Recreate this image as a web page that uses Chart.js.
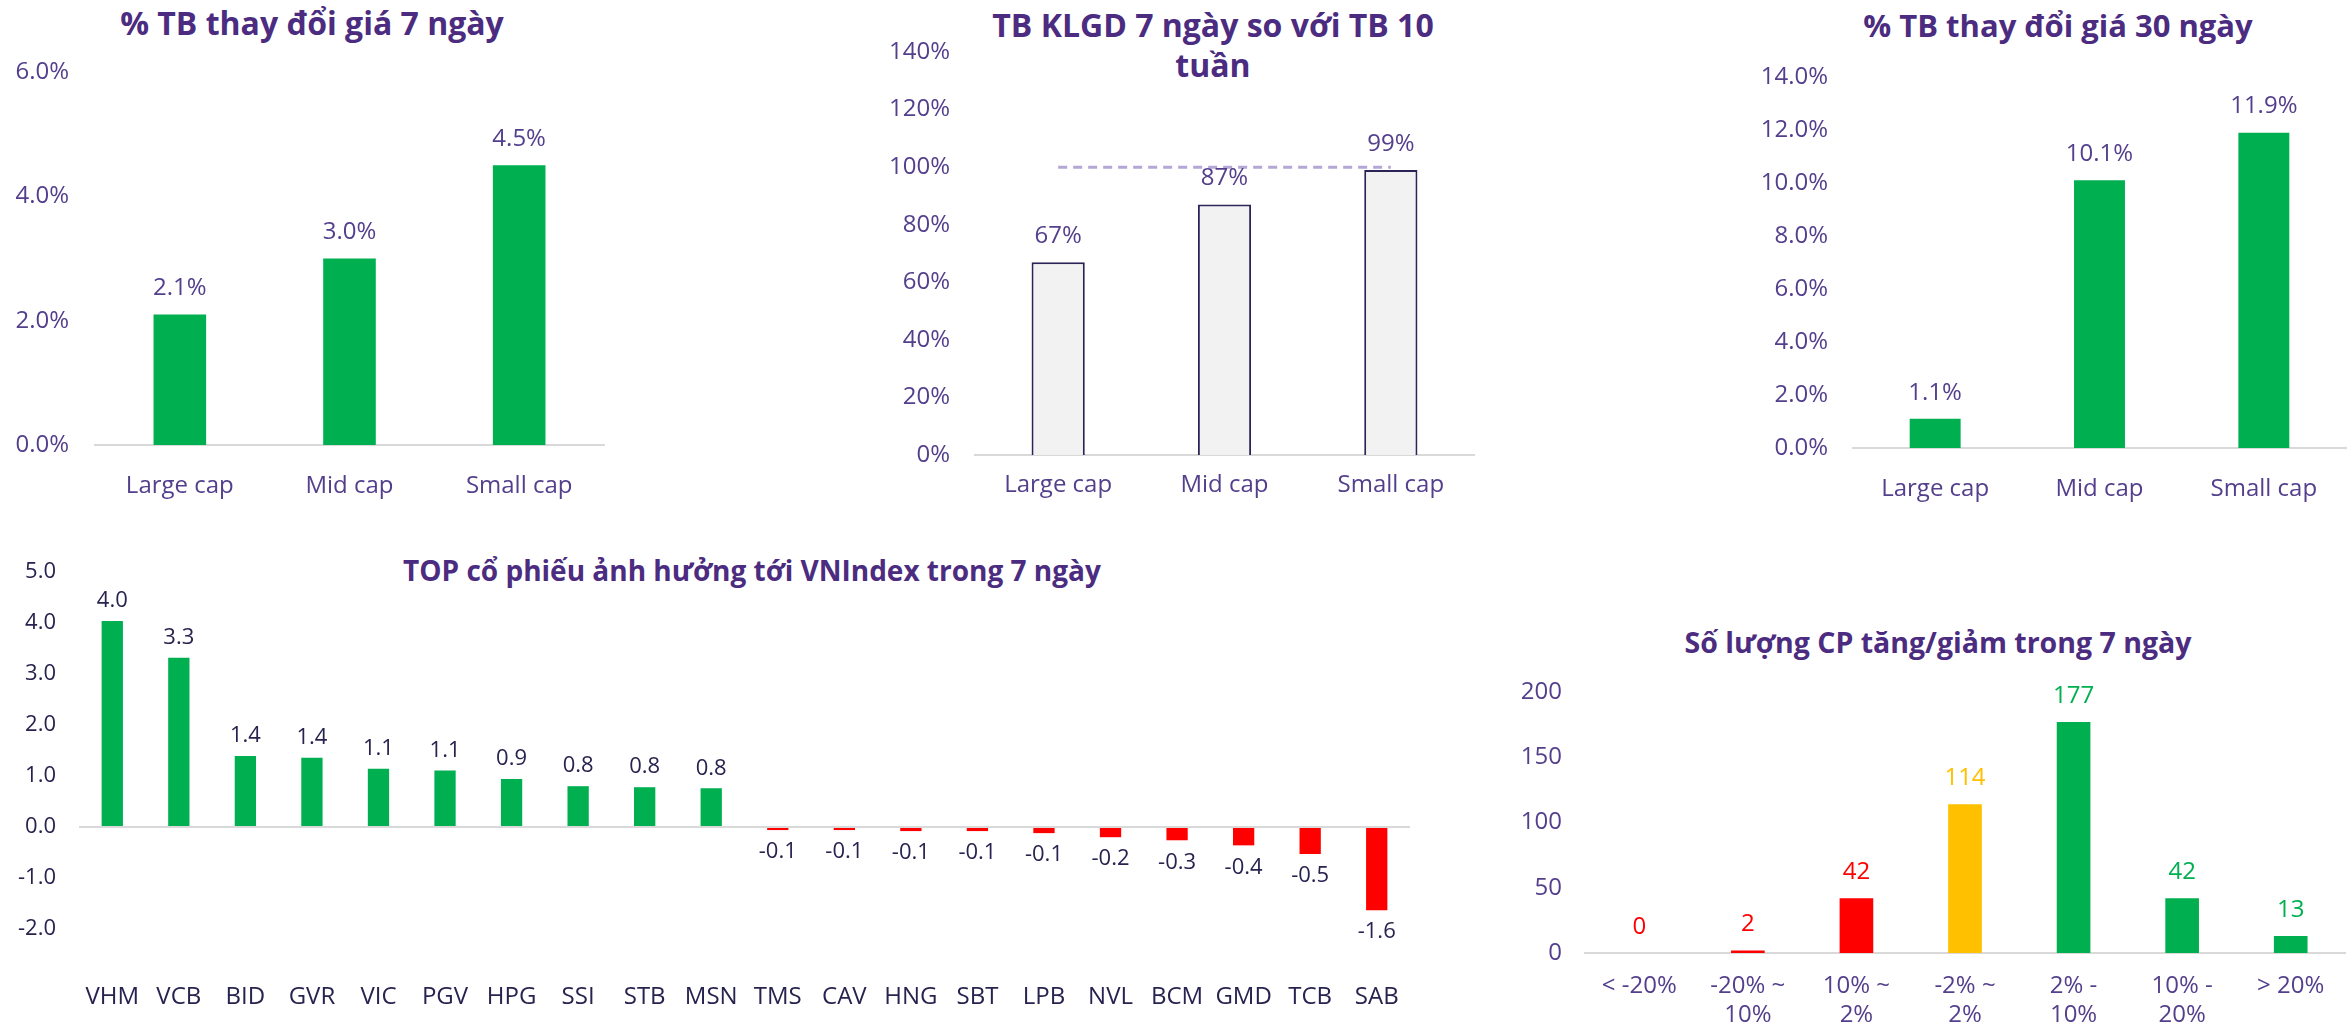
<!DOCTYPE html>
<html lang="vi">
<head>
<meta charset="utf-8">
<title>Thống kê thị trường 7 ngày</title>
<script src="https://cdn.jsdelivr.net/npm/chart.js@4.4.1/dist/chart.umd.min.js"></script>
<style>
  html, body {
    margin: 0;
    padding: 0;
    background: #ffffff;
    width: 2348px;
    height: 1029px;
    overflow: hidden;
    position: relative;
    font-family: "Open Sans", sans-serif;
  }
  .box { position: absolute; }
  .title {
    position: absolute;
    width: 900px;
    color: #4b2c80;
    font-weight: 700;
    font-size: 32px;
    line-height: 40px;
    text-align: center;
    white-space: nowrap;
  }
</style>
</head>
<body>
<div class="title" style="left:-138px;top:3px">% TB thay đổi giá 7 ngày</div>
<div class="title" style="left:763px;top:5px">TB KLGD 7 ngày so với TB 10<br>tuần</div>
<div class="title" style="left:1608px;top:5px;font-size:31px">% TB thay đổi giá 30 ngày</div>
<div class="title" style="left:302px;top:550px;font-size:28px">TOP cổ phiếu ảnh hưởng tới VNIndex trong 7 ngày</div>
<div class="title" style="left:1488px;top:622px;font-size:28.5px">Số lượng CP tăng/giảm trong 7 ngày</div>

<div class="box" style="left:0;top:0;width:624px;height:520px"><canvas id="price7d"></canvas></div>
<div class="box" style="left:870px;top:0;width:686px;height:520px"><canvas id="volume"></canvas></div>
<div class="box" style="left:1750px;top:0;width:616px;height:520px"><canvas id="price30d"></canvas></div>
<div class="box" style="left:0;top:530px;width:1430px;height:499px"><canvas id="topImpact"></canvas></div>
<div class="box" style="left:1500px;top:580px;width:868px;height:449px"><canvas id="breadth"></canvas></div>

<script>
// Données
const capCategories = ["Large cap", "Mid cap", "Small cap"];
const priceChange7d = [2.1, 3.0, 4.5];
const volumeVs10w = [67, 87, 99];
const volumeReference = [100, 100, 100];
const priceChange30d = [1.1, 10.1, 11.9];

const topTickers = ["VHM", "VCB", "BID", "GVR", "VIC", "PGV", "HPG", "SSI", "STB", "MSN",
  "TMS", "CAV", "HNG", "SBT", "LPB", "NVL", "BCM", "GMD", "TCB", "SAB"];
const topImpact = [4.04, 3.32, 1.39, 1.36, 1.14, 1.11, 0.94, 0.8, 0.78, 0.76,
  -0.06, -0.06, -0.08, -0.08, -0.12, -0.2, -0.26, -0.36, -0.53, -1.63];

const breadthBuckets = ["< -20%", ["-20% ~", "10%"], ["10% ~", "2%"], ["-2% ~", "2%"],
  ["2% -", "10%"], ["10% -", "20%"], "> 20%"];
const breadthCounts = [0, 2, 42, 114, 177, 42, 13];

const GREEN = "#00b050";
const RED = "#ff0000";
const YELLOW = "#ffc000";
const PURPLE = "#533f8c";
const NAVY = "#27234f";
const AXIS_GREY = "#d9d9d9";
const breadthColors = [RED, RED, RED, YELLOW, GREEN, GREEN, GREEN];

Chart.defaults.font.family = '"Open Sans", sans-serif';
Chart.defaults.animation = false;

// Étiquettes de valeur au-dessus (ou en dessous) des barres
function makeLabelPlugin({ format, color, size, offset, offsetBelow }) {
  return {
    id: "barLabels",
    afterDatasetsDraw(chart) {
      const { ctx } = chart;
      chart.data.datasets.forEach((dataset, i) => {
        if (dataset.type === "line") return;
        chart.getDatasetMeta(i).data.forEach((bar, j) => {
          const value = dataset.data[j];
          const below = value < 0;
          ctx.save();
          ctx.fillStyle = Array.isArray(color) ? color[j] : color;
          ctx.font = `${size}px "Open Sans", sans-serif`;
          ctx.textAlign = "center";
          ctx.textBaseline = "middle";
          ctx.fillText(format(value), bar.x, below ? bar.y + offsetBelow : bar.y - offset);
          ctx.restore();
        });
      });
    }
  };
}

function fixedWidth(width) {
  return (scale) => { scale.width = width; };
}

function fixedHeight(height) {
  return (scale) => { scale.height = height; };
}

// Grille invisible : seul l'écart sous l'axe sert (ticks.padding élargirait aussi la zone à droite)
function labelGap(gap) {
  return {
    display: true,
    drawOnChartArea: false,
    drawTicks: true,
    tickLength: gap,
    color: "rgba(0,0,0,0)"
  };
}

function capChart(canvasId, opts) {
  return new Chart(document.getElementById(canvasId), {
    type: "bar",
    data: {
      labels: capCategories,
      datasets: opts.datasets
    },
    options: {
      responsive: true,
      maintainAspectRatio: false,
      devicePixelRatio: 1,
      layout: { padding: { top: opts.top, right: opts.right, left: 0, bottom: 0 } },
      plugins: { legend: { display: false }, tooltip: { enabled: false } },
      scales: {
        x: {
          afterFit: fixedHeight(opts.xHeight),
          grid: labelGap(opts.xGap),
          border: { display: true, color: AXIS_GREY, width: 2 },
          ticks: { color: PURPLE, font: { size: 24 }, padding: 0 }
        },
        y: {
          min: 0,
          max: opts.max,
          afterFit: fixedWidth(opts.yWidth),
          grid: { display: false, drawTicks: false },
          border: { display: false },
          ticks: {
            stepSize: opts.step,
            color: PURPLE,
            font: { size: 24 },
            padding: opts.yPad,
            callback: opts.tickFormat
          }
        }
      }
    },
    plugins: [makeLabelPlugin({ format: opts.labelFormat, color: PURPLE, size: 24, offset: 26, offsetBelow: 26 })]
  });
}

capChart("price7d", {
  datasets: [{
    data: priceChange7d,
    backgroundColor: GREEN,
    categoryPercentage: 1,
    barPercentage: 0.31
  }],
  top: 72, right: 20, yWidth: 95, yPad: 26, xHeight: 75, xGap: 27,
  max: 6, step: 2,
  tickFormat: (v) => `${v.toFixed(1)}%`,
  labelFormat: (v) => `${v.toFixed(1)}%`
});

capChart("volume", {
  datasets: [
    {
      type: "line",
      data: volumeReference,
      borderColor: "#b4a7d6",
      borderWidth: 3,
      borderDash: [9, 6],
      pointRadius: 0,
      fill: false,
      order: 0
    },
    {
      data: volumeVs10w,
      backgroundColor: "#f2f2f2",
      borderColor: "#2b2457",
      borderWidth: 2,
      categoryPercentage: 1,
      barPercentage: 0.32,
      order: 1
    }
  ],
  top: 52, right: 82, yWidth: 105, yPad: 25, xHeight: 65, xGap: 16,
  max: 140, step: 20,
  tickFormat: (v) => `${v}%`,
  labelFormat: (v) => `${v}%`
});

capChart("price30d", {
  datasets: [{
    data: priceChange30d,
    backgroundColor: GREEN,
    categoryPercentage: 1,
    barPercentage: 0.31
  }],
  top: 77, right: 20, yWidth: 103, yPad: 25, xHeight: 72, xGap: 27,
  max: 14, step: 2,
  tickFormat: (v) => `${v.toFixed(1)}%`,
  labelFormat: (v) => `${v.toFixed(1)}%`
});

new Chart(document.getElementById("topImpact"), {
  type: "bar",
  data: {
    labels: topTickers,
    datasets: [{
      data: topImpact,
      backgroundColor: topImpact.map((v) => (v >= 0 ? GREEN : RED)),
      categoryPercentage: 1,
      barPercentage: 0.32
    }]
  },
  options: {
    responsive: true,
    maintainAspectRatio: false,
    devicePixelRatio: 1,
    layout: { padding: { top: 42, right: 20, left: 0, bottom: 0 } },
    plugins: { legend: { display: false }, tooltip: { enabled: false } },
    scales: {
      x: {
        afterFit: fixedHeight(100),
        grid: labelGap(54),
        border: { display: false },
        ticks: { color: NAVY, font: { size: 24 }, padding: 0, autoSkip: false, maxRotation: 0 }
      },
      y: {
        min: -2,
        max: 5,
        afterFit: fixedWidth(79),
        grid: {
          drawTicks: false,
          lineWidth: 2,
          color: (ctx) => (ctx.tick && ctx.tick.value === 0 ? AXIS_GREY : "rgba(0,0,0,0)")
        },
        border: { display: false },
        ticks: {
          stepSize: 1,
          color: NAVY,
          font: { size: 22 },
          padding: 23,
          callback: (v) => v.toFixed(1)
        }
      }
    }
  },
  plugins: [makeLabelPlugin({ format: (v) => v.toFixed(1), color: NAVY, size: 22, offset: 20, offsetBelow: 22 })]
});

new Chart(document.getElementById("breadth"), {
  type: "bar",
  data: {
    labels: breadthBuckets,
    datasets: [{
      data: breadthCounts,
      backgroundColor: breadthColors,
      categoryPercentage: 1,
      barPercentage: 0.31
    }]
  },
  options: {
    responsive: true,
    maintainAspectRatio: false,
    devicePixelRatio: 1,
    layout: { padding: { top: 112, right: 23, left: 0, bottom: 0 } },
    plugins: { legend: { display: false }, tooltip: { enabled: false } },
    scales: {
      x: {
        afterFit: fixedHeight(76),
        grid: labelGap(19),
        border: { display: true, color: AXIS_GREY, width: 2 },
        ticks: { color: PURPLE, font: { size: 24 }, padding: 0, autoSkip: false, maxRotation: 0 }
      },
      y: {
        min: 0,
        max: 200,
        afterFit: fixedWidth(85),
        grid: { display: false, drawTicks: false },
        border: { display: false },
        ticks: { stepSize: 50, color: PURPLE, font: { size: 24 }, padding: 23 }
      }
    }
  },
  plugins: [makeLabelPlugin({ format: (v) => `${v}`, color: breadthColors, size: 24, offset: 26, offsetBelow: 26 })]
});
</script>
</body>
</html>
